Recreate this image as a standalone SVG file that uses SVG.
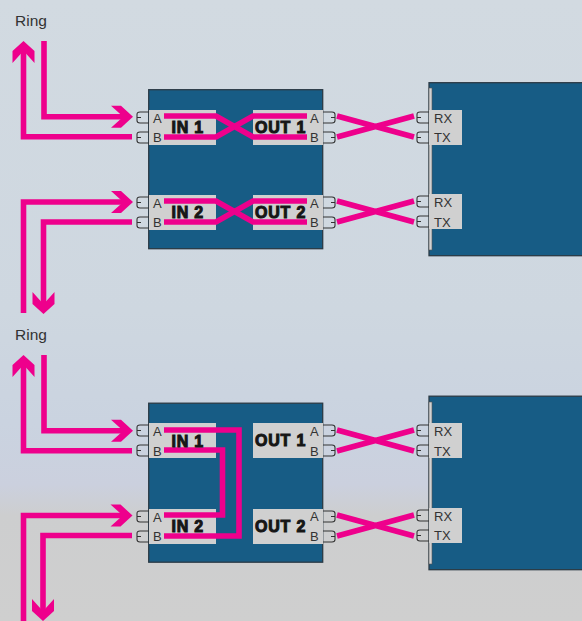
<svg xmlns="http://www.w3.org/2000/svg" width="582" height="621" viewBox="0 0 582 621">
<style>
.box{fill:#175c85;stroke:#2b3a45;stroke-width:1.3}
.lab{fill:#d0d0d0}
.strip{fill:#d2d2d2;stroke:#555;stroke-width:.6}
.port{fill:none;stroke:#333;stroke-width:1.1}
.w{fill:none;stroke:#ee008c;stroke-width:5.6;stroke-linejoin:miter}
.h{fill:#ee008c}
text{font-family:"Liberation Sans",Arial,sans-serif;fill:#333}
.p{font-size:13px}
.t{font-size:15.5px}
.n{font-size:16px;font-weight:bold;fill:#161616;stroke:#161616;stroke-width:1;letter-spacing:.8px}
</style>
<defs>
<linearGradient id="bg" x1="0" y1="0" x2="0" y2="1">
<stop offset="0" stop-color="#d2dae1"/>
<stop offset=".5" stop-color="#ced7e0"/>
<stop offset=".68" stop-color="#cad3e0"/>
<stop offset=".78" stop-color="#cbd0de"/>
<stop offset=".83" stop-color="#cdcecf"/>
<stop offset="1" stop-color="#cfcfcf"/>
</linearGradient>
<g id="portL"><path class="port" d="M12,0H3Q0,0 0,2.500V5.500H4M0,5.500V8.500Q0,11 3,11H12"/></g>
<g id="portR"><path class="port" d="M0,0H9Q12,0 12,2.500V5.500H8M12,5.500V8.500Q12,11 9,11H0"/></g>
<polygon id="hr" class="h" points="0,-11 10,-11 22,0 10,11 0,11 10,2 10,-2"/>
<polygon id="hu" class="h" points="-11,0 -11,-12 0,-22 11,-12 11,0 2,-10 -2,-10"/>
<polygon id="hd" class="h" points="-11,0 -11,12 0,22 11,12 11,0 2,10 -2,10"/>
</defs>
<rect width="582" height="621" fill="url(#bg)"/>

<g id="ring-label-1"><text class="t" x="15" y="26">Ring</text></g>
<g id="ring-label-2"><text class="t" x="15" y="340">Ring</text></g>

<g id="switch-top">
<rect class="box" x="148.700" y="89.700" width="174" height="159"/>
<rect class="lab" x="149" y="110" width="67" height="35"/>
<rect class="lab" x="149" y="195" width="67" height="35"/>
<rect class="lab" x="253" y="110" width="70" height="35"/>
<rect class="lab" x="253" y="195" width="70" height="35"/>
<use href="#portL" x="137" y="112"/><use href="#portL" x="137" y="132"/>
<use href="#portL" x="137" y="197"/><use href="#portL" x="137" y="217"/>
<use href="#portR" x="323" y="112"/><use href="#portR" x="323" y="132"/>
<use href="#portR" x="323" y="197"/><use href="#portR" x="323" y="217"/>
</g>

<g id="host-top">
<rect class="box" x="429" y="82.700" width="154" height="173"/>
<rect class="strip" x="429" y="88" width="3" height="162"/>
<rect class="lab" x="429" y="110" width="33" height="35"/>
<rect class="lab" x="429" y="194" width="33" height="35"/>
<use href="#portL" x="417" y="112"/><use href="#portL" x="417" y="132"/>
<use href="#portL" x="417" y="196"/><use href="#portL" x="417" y="216"/>
</g>

<g id="switch-bottom">
<rect class="box" x="148.700" y="403.200" width="174" height="159"/>
<rect class="lab" x="149" y="423" width="67" height="35"/>
<rect class="lab" x="149" y="509" width="67" height="35"/>
<rect class="lab" x="253" y="423" width="70" height="35"/>
<rect class="lab" x="253" y="509" width="70" height="35"/>
<use href="#portL" x="137" y="425"/><use href="#portL" x="137" y="445"/>
<use href="#portL" x="137" y="511"/><use href="#portL" x="137" y="531"/>
<use href="#portR" x="323" y="425"/><use href="#portR" x="323" y="445"/>
<use href="#portR" x="323" y="511"/><use href="#portR" x="323" y="531"/>
</g>

<g id="host-bottom">
<rect class="box" x="429" y="396.200" width="154" height="173.500"/>
<rect class="strip" x="429" y="402" width="3" height="162"/>
<rect class="lab" x="429" y="423" width="33" height="35"/>
<rect class="lab" x="429" y="508" width="33" height="35"/>
<use href="#portL" x="417" y="425"/><use href="#portL" x="417" y="445"/>
<use href="#portL" x="417" y="510"/><use href="#portL" x="417" y="530"/>
</g>

<g id="connectors">
<path class="w" d="M44,41V116.800H122"/>
<use href="#hr" x="111" y="116.800"/>
<path class="w" d="M132,136.800H23.500V52"/>
<use href="#hu" x="23.500" y="63"/>
<path class="w" d="M164,116H216L253,137H307M164,137H216L253,116H307"/>
<path class="w" d="M337,116L414,137M337,137L414,116"/>
<path class="w" d="M23.500,313V202H122"/>
<use href="#hr" x="111" y="202"/>
<path class="w" d="M132,222H43.500V303"/>
<use href="#hd" x="43.500" y="292"/>
<path class="w" d="M164,201H216L253,222H307M164,222H216L253,201H307"/>
<path class="w" d="M337,201L414,222M337,222L414,201"/>

<path class="w" d="M44,355V430.800H122"/>
<use href="#hr" x="111" y="430.800"/>
<path class="w" d="M132,450.800H23.500V366"/>
<use href="#hu" x="23.500" y="377"/>
<path class="w" d="M164,430H239V536H164"/>
<path class="w" d="M164,450H222.500V515H164"/>
<path class="w" d="M337,430L414,451M337,451L414,430"/>
<path class="w" d="M23.500,621V515.500H122"/>
<use href="#hr" x="110.500" y="515.500"/>
<path class="w" d="M132,535.500H43V610"/>
<use href="#hd" x="43" y="599"/>
<path class="w" d="M337,515L414,536M337,536L414,515"/>
</g>

<g id="labels">
<text class="p" x="153" y="122.500">A</text><text class="p" x="153" y="142">B</text>
<text class="p" x="153" y="207.500">A</text><text class="p" x="153" y="227">B</text>
<text class="p" x="153" y="436">A</text><text class="p" x="153" y="456">B</text>
<text class="p" x="153" y="521.500">A</text><text class="p" x="153" y="541">B</text>
<text class="p" x="310" y="122.500">A</text><text class="p" x="310" y="142">B</text>
<text class="p" x="310" y="207.500">A</text><text class="p" x="310" y="227">B</text>
<text class="p" x="310" y="436">A</text><text class="p" x="310" y="456">B</text>
<text class="p" x="310" y="521">A</text><text class="p" x="310" y="541">B</text>
<text class="p" x="434" y="122.500">RX</text><text class="p" x="434" y="142">TX</text>
<text class="p" x="434" y="207">RX</text><text class="p" x="434" y="226.500">TX</text>
<text class="p" x="434" y="436">RX</text><text class="p" x="434" y="456">TX</text>
<text class="p" x="434" y="520.500">RX</text><text class="p" x="434" y="540">TX</text>
<text class="n" x="171.500" y="133">IN 1</text>
<text class="n" x="171.500" y="218">IN 2</text>
<text class="n" x="171.500" y="446.500">IN 1</text>
<text class="n" x="171.500" y="532">IN 2</text>
<text class="n" x="255" y="133">OUT 1</text>
<text class="n" x="255" y="218">OUT 2</text>
<text class="n" x="255" y="446">OUT 1</text>
<text class="n" x="255" y="532">OUT 2</text>
</g>
</svg>
